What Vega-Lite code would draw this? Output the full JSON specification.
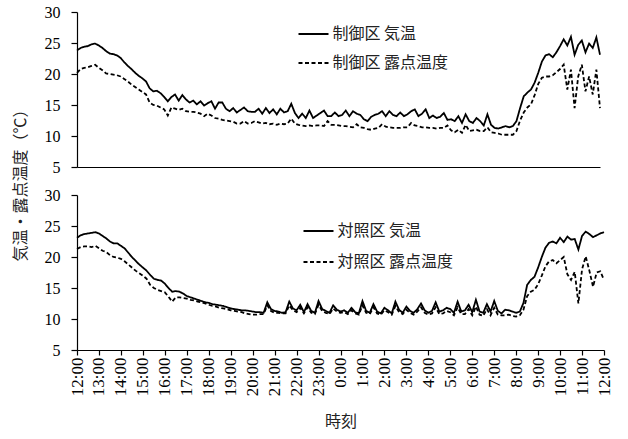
{
"$schema": "https://vega.github.io/schema/vega-lite/v6.json",
"background": "white",
"padding": {"left": 12, "top": 4, "right": 10, "bottom": 5},
"datasets": {"t": [
{"m":0,"a":23.8,"b":20.2,"c":23.1,"d":21.3},
{"m":10,"a":24.2,"b":20.8,"c":23.5,"d":21.6},
{"m":20,"a":24.4,"b":21.0,"c":23.7,"d":21.7},
{"m":30,"a":24.5,"b":21.1,"c":23.8,"d":21.7},
{"m":40,"a":24.8,"b":21.3,"c":23.9,"d":21.6},
{"m":50,"a":24.9,"b":21.5,"c":24.0,"d":21.8},
{"m":60,"a":24.6,"b":21.0,"c":23.8,"d":21.4},
{"m":70,"a":24.2,"b":20.6,"c":23.4,"d":21.0},
{"m":80,"a":23.7,"b":20.1,"c":23.0,"d":20.8},
{"m":90,"a":23.3,"b":20.0,"c":22.5,"d":20.3},
{"m":100,"a":23.2,"b":19.9,"c":22.2,"d":20.0},
{"m":110,"a":23.0,"b":19.8,"c":22.2,"d":19.9},
{"m":120,"a":22.6,"b":19.6,"c":21.8,"d":19.7},
{"m":130,"a":21.9,"b":19.2,"c":21.4,"d":19.3},
{"m":140,"a":21.3,"b":18.8,"c":20.7,"d":18.8},
{"m":150,"a":20.8,"b":18.3,"c":20.0,"d":18.3},
{"m":160,"a":20.2,"b":17.9,"c":19.4,"d":17.8},
{"m":170,"a":19.7,"b":17.5,"c":18.8,"d":17.4},
{"m":180,"a":19.3,"b":17.1,"c":18.3,"d":17.0},
{"m":190,"a":18.8,"b":16.7,"c":17.8,"d":16.5},
{"m":200,"a":17.7,"b":15.4,"c":17.1,"d":15.5},
{"m":210,"a":17.2,"b":15.0,"c":16.5,"d":15.0},
{"m":220,"a":17.3,"b":14.9,"c":16.3,"d":14.7},
{"m":230,"a":16.9,"b":14.6,"c":16.2,"d":14.5},
{"m":240,"a":16.3,"b":14.3,"c":15.7,"d":14.3},
{"m":250,"a":15.6,"b":13.3,"c":15.0,"d":13.6},
{"m":260,"a":16.3,"b":14.6,"c":14.4,"d":12.8},
{"m":270,"a":16.7,"b":14.4,"c":14.5,"d":13.5},
{"m":280,"a":15.7,"b":14.2,"c":14.4,"d":13.5},
{"m":290,"a":16.6,"b":14.4,"c":14.1,"d":13.4},
{"m":300,"a":15.9,"b":14.0,"c":13.7,"d":13.3},
{"m":310,"a":15.4,"b":13.9,"c":13.5,"d":13.1},
{"m":320,"a":15.7,"b":13.9,"c":13.3,"d":13.0},
{"m":330,"a":15.1,"b":13.8,"c":13.1,"d":12.8},
{"m":340,"a":15.6,"b":13.6,"c":12.9,"d":12.7},
{"m":350,"a":14.9,"b":13.2,"c":12.7,"d":12.5},
{"m":360,"a":15.3,"b":13.6,"c":12.6,"d":12.3},
{"m":370,"a":15.6,"b":13.3,"c":12.4,"d":12.1},
{"m":380,"a":14.4,"b":12.9,"c":12.3,"d":12.0},
{"m":390,"a":15.4,"b":12.8,"c":12.2,"d":11.8},
{"m":400,"a":15.4,"b":12.6,"c":12.1,"d":11.7},
{"m":410,"a":14.4,"b":12.5,"c":11.9,"d":11.6},
{"m":420,"a":14.0,"b":12.4,"c":11.7,"d":11.4},
{"m":430,"a":14.5,"b":12.3,"c":11.6,"d":11.3},
{"m":440,"a":13.8,"b":12.0,"c":11.5,"d":11.2},
{"m":450,"a":14.2,"b":12.0,"c":11.4,"d":11.1},
{"m":460,"a":14.6,"b":12.4,"c":11.4,"d":10.9},
{"m":470,"a":14.0,"b":12.0,"c":11.3,"d":10.8},
{"m":480,"a":13.9,"b":12.1,"c":11.2,"d":10.7},
{"m":490,"a":13.9,"b":12.4,"c":11.1,"d":10.7},
{"m":500,"a":14.4,"b":12.2,"c":11.1,"d":10.8},
{"m":510,"a":13.6,"b":12.0,"c":11.0,"d":10.8},
{"m":520,"a":14.5,"b":12.1,"c":12.7,"d":12.2},
{"m":530,"a":13.7,"b":11.9,"c":11.6,"d":11.3},
{"m":540,"a":14.3,"b":12.0,"c":11.3,"d":11.0},
{"m":550,"a":13.5,"b":11.8,"c":11.2,"d":11.0},
{"m":560,"a":14.4,"b":12.0,"c":11.0,"d":10.9},
{"m":570,"a":13.8,"b":11.9,"c":11.1,"d":10.9},
{"m":580,"a":14.0,"b":12.0,"c":12.8,"d":12.2},
{"m":590,"a":15.2,"b":12.8,"c":11.7,"d":11.4},
{"m":600,"a":13.7,"b":12.0,"c":11.4,"d":11.1},
{"m":610,"a":12.9,"b":11.8,"c":12.3,"d":11.8},
{"m":620,"a":13.6,"b":11.7,"c":11.1,"d":10.9},
{"m":630,"a":12.9,"b":11.6,"c":12.4,"d":11.9},
{"m":640,"a":14.1,"b":11.7,"c":11.3,"d":11.0},
{"m":650,"a":12.9,"b":11.6,"c":11.0,"d":10.8},
{"m":660,"a":13.3,"b":11.7,"c":12.9,"d":12.3},
{"m":670,"a":13.7,"b":11.7,"c":11.6,"d":11.3},
{"m":680,"a":14.1,"b":11.6,"c":11.3,"d":11.0},
{"m":690,"a":13.2,"b":12.4,"c":11.0,"d":10.8},
{"m":700,"a":13.2,"b":11.8,"c":12.2,"d":11.7},
{"m":710,"a":13.8,"b":11.8,"c":11.5,"d":11.2},
{"m":720,"a":13.2,"b":11.7,"c":11.2,"d":11.0},
{"m":730,"a":13.4,"b":11.6,"c":11.4,"d":11.1},
{"m":740,"a":14.1,"b":11.6,"c":11.0,"d":10.8},
{"m":750,"a":13.2,"b":11.5,"c":11.8,"d":11.4},
{"m":760,"a":14.0,"b":11.4,"c":11.1,"d":10.9},
{"m":770,"a":13.6,"b":11.9,"c":10.9,"d":10.7},
{"m":780,"a":13.4,"b":11.4,"c":12.9,"d":12.2},
{"m":790,"a":12.7,"b":11.3,"c":11.3,"d":11.0},
{"m":800,"a":12.4,"b":11.1,"c":11.0,"d":10.8},
{"m":810,"a":13.1,"b":11.0,"c":12.4,"d":11.9},
{"m":820,"a":13.4,"b":11.2,"c":11.2,"d":10.9},
{"m":830,"a":13.6,"b":11.3,"c":10.9,"d":10.7},
{"m":840,"a":14.0,"b":11.9,"c":11.8,"d":11.4},
{"m":850,"a":13.2,"b":11.5,"c":11.4,"d":11.1},
{"m":860,"a":14.0,"b":11.4,"c":10.9,"d":10.7},
{"m":870,"a":13.4,"b":11.3,"c":12.8,"d":12.1},
{"m":880,"a":13.2,"b":11.3,"c":11.5,"d":11.1},
{"m":890,"a":13.8,"b":11.3,"c":11.0,"d":10.8},
{"m":900,"a":13.2,"b":11.4,"c":12.0,"d":11.5},
{"m":910,"a":13.5,"b":11.4,"c":11.3,"d":11.0},
{"m":920,"a":14.0,"b":12.1,"c":11.0,"d":10.7},
{"m":930,"a":14.3,"b":11.7,"c":11.6,"d":11.2},
{"m":940,"a":13.2,"b":11.6,"c":12.5,"d":11.9},
{"m":950,"a":13.6,"b":11.4,"c":11.4,"d":11.0},
{"m":960,"a":14.3,"b":11.4,"c":11.0,"d":10.7},
{"m":970,"a":12.9,"b":11.3,"c":11.3,"d":10.9},
{"m":980,"a":13.3,"b":11.3,"c":12.7,"d":11.9},
{"m":990,"a":12.9,"b":11.2,"c":11.2,"d":10.8},
{"m":1000,"a":13.1,"b":11.3,"c":11.4,"d":10.9},
{"m":1010,"a":13.7,"b":11.3,"c":11.8,"d":11.3},
{"m":1020,"a":12.6,"b":11.7,"c":11.6,"d":11.1},
{"m":1030,"a":12.7,"b":10.9,"c":11.0,"d":10.6},
{"m":1040,"a":12.4,"b":10.6,"c":12.8,"d":11.9},
{"m":1050,"a":13.2,"b":11.0,"c":11.2,"d":10.8},
{"m":1060,"a":12.1,"b":10.5,"c":11.4,"d":10.8},
{"m":1070,"a":13.5,"b":11.8,"c":12.3,"d":11.6},
{"m":1080,"a":12.4,"b":10.8,"c":11.1,"d":10.6},
{"m":1090,"a":12.1,"b":10.9,"c":13.1,"d":12.0},
{"m":1100,"a":12.9,"b":11.0,"c":11.2,"d":10.7},
{"m":1110,"a":12.4,"b":10.8,"c":11.0,"d":10.5},
{"m":1120,"a":11.7,"b":10.8,"c":12.4,"d":11.6},
{"m":1130,"a":13.5,"b":11.4,"c":11.2,"d":10.6},
{"m":1140,"a":11.8,"b":10.6,"c":12.9,"d":11.8},
{"m":1150,"a":11.3,"b":10.5,"c":11.3,"d":10.7},
{"m":1160,"a":11.2,"b":10.4,"c":10.9,"d":10.6},
{"m":1170,"a":11.4,"b":10.2,"c":11.5,"d":10.6},
{"m":1180,"a":11.6,"b":10.2,"c":11.4,"d":10.7},
{"m":1190,"a":11.4,"b":10.2,"c":11.2,"d":10.5},
{"m":1200,"a":11.6,"b":10.2,"c":11.0,"d":10.4},
{"m":1210,"a":12.4,"b":10.8,"c":11.2,"d":10.6},
{"m":1220,"a":14.5,"b":12.5,"c":12.6,"d":11.5},
{"m":1230,"a":16.4,"b":13.8,"c":15.5,"d":13.7},
{"m":1240,"a":17.0,"b":14.6,"c":16.3,"d":14.4},
{"m":1250,"a":17.5,"b":15.1,"c":16.8,"d":14.7},
{"m":1260,"a":18.6,"b":16.6,"c":18.3,"d":15.6},
{"m":1270,"a":20.2,"b":18.4,"c":20.0,"d":17.0},
{"m":1280,"a":22.0,"b":19.4,"c":21.5,"d":18.5},
{"m":1290,"a":23.0,"b":19.6,"c":22.3,"d":19.3},
{"m":1300,"a":23.2,"b":19.6,"c":22.5,"d":19.5},
{"m":1310,"a":22.7,"b":19.8,"c":22.2,"d":19.0},
{"m":1320,"a":23.5,"b":20.3,"c":23.1,"d":19.5},
{"m":1330,"a":24.5,"b":20.8,"c":22.4,"d":20.0},
{"m":1340,"a":25.6,"b":21.5,"c":23.3,"d":17.2},
{"m":1350,"a":24.6,"b":17.5,"c":22.8,"d":16.3},
{"m":1360,"a":26.0,"b":20.7,"c":22.9,"d":17.6},
{"m":1370,"a":23.1,"b":14.5,"c":21.2,"d":12.5},
{"m":1380,"a":24.7,"b":19.6,"c":23.4,"d":18.0},
{"m":1390,"a":25.4,"b":21.5,"c":24.1,"d":20.1},
{"m":1400,"a":23.5,"b":17.2,"c":23.7,"d":17.8},
{"m":1410,"a":24.9,"b":19.6,"c":23.2,"d":15.2},
{"m":1420,"a":24.2,"b":16.7,"c":23.5,"d":17.5},
{"m":1430,"a":25.9,"b":20.7,"c":23.8,"d":17.7},
{"m":1440,"a":23.1,"b":14.5,"c":24.0,"d":16.3}
]},
"bounds": "flush",
"spacing": 28,
"vconcat": [
{
"width": 523, "height": 155,
"data": {"name": "t"},
"transform": [{"fold": ["a", "b"], "as": ["k", "v"]}],
"mark": {"type": "line", "color": "black", "strokeWidth": 1.8},
"encoding": {
"x": {"field": "m", "type": "quantitative", "scale": {"domain": [0, 1440], "nice": false, "zero": false},
"axis": {"ticks": false, "labels": false, "title": null, "grid": false}},
"y": {"field": "v", "type": "quantitative", "scale": {"domain": [5, 30], "nice": false, "zero": false},
"axis": {"values": [5, 10, 15, 20, 25, 30], "title": null}},
"strokeDash": {"field": "k", "type": "nominal", "scale": {"domain": ["a", "b"], "range": [[1, 0], [4, 2.5]]},
"legend": {"orient": "none", "legendX": 220.5, "legendY": 6, "title": null, "rowPadding": 5,
"labelExpr": "datum.label == 'a' ? '制御区 気温' : '制御区 露点温度'"}}
}
},
{
"width": 527, "height": 155,
"data": {"name": "t"},
"transform": [{"fold": ["c", "d"], "as": ["k", "v"]}],
"mark": {"type": "line", "color": "black", "strokeWidth": 1.8},
"encoding": {
"x": {"field": "m", "type": "quantitative", "scale": {"domain": [0, 1440], "nice": false, "zero": false},
"axis": {"values": [0,60,120,180,240,300,360,420,480,540,600,660,720,780,840,900,960,1020,1080,1140,1200,1260,1320,1380,1440],
"labelExpr": "((datum.value/60+12)%24) + ':00'", "labelAngle": -90, "labelFontSize": 17, "tickSize": 5, "labelPadding": 2,
"labelOverlap": false, "labelFlush": false, "title": "時刻", "titlePadding": 18}},
"y": {"field": "v", "type": "quantitative", "scale": {"domain": [5, 30], "nice": false, "zero": false},
"axis": {"values": [5, 10, 15, 20, 25, 30], "title": "気温・露点温度（℃）", "titleY": -14, "titlePadding": 16}},
"strokeDash": {"field": "k", "type": "nominal", "scale": {"domain": ["c", "d"], "range": [[1, 0], [4, 2.5]]},
"legend": {"orient": "none", "legendX": 225.5, "legendY": 20, "title": null, "rowPadding": 7,
"labelExpr": "datum.label == 'c' ? '対照区 気温' : '対照区 露点温度'"}}
}
}
],
"resolve": {"scale": {"strokeDash": "independent"}, "legend": {"strokeDash": "independent"}},
"config": {
"view": {"stroke": null},
"axis": {"grid": false, "domainColor": "black", "domainWidth": 1.2, "tickColor": "black", "tickWidth": 1.2,
"labelFont": "Liberation Serif, DejaVu Serif, Times New Roman, serif", "labelFontSize": 16, "labelColor": "black",
"titleFont": "Noto Sans CJK JP", "titleFontSize": 16, "titleFontWeight": "normal", "titleColor": "#222"},
"axisY": {"tickSize": 6, "labelPadding": 11},
"legend": {"symbolType": "stroke", "symbolSize": 900, "symbolStrokeWidth": 1.8, "symbolStrokeColor": "black",
"labelFont": "Noto Sans CJK JP", "labelFontSize": 16, "labelColor": "#222", "labelOffset": 3, "labelLimit": 300}
}
}
